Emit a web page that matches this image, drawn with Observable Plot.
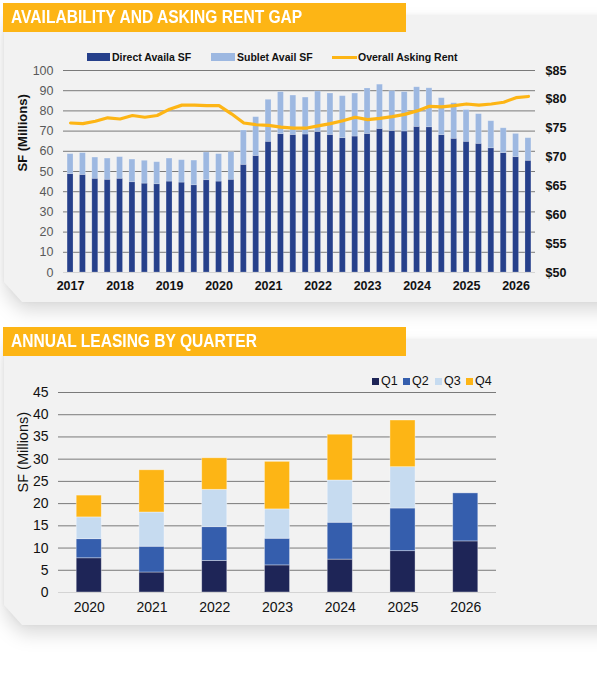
<!DOCTYPE html>
<html>
<head>
<meta charset="utf-8">
<script src="https://cdn.jsdelivr.net/npm/d3@7"></script>
<script src="https://cdn.jsdelivr.net/npm/@observablehq/plot@0.6"></script>
<style>
  body { margin: 0; width: 597px; height: 675px; background: #fff; position: relative; overflow: hidden;
         font-family: "Liberation Sans", Arial, Helvetica, sans-serif; }
  .shadow { position: absolute; left: 4px; width: 640px; filter: drop-shadow(0 9px 9px rgba(0,0,0,0.14)) drop-shadow(0 -1px 2px rgba(0,0,0,0.06)); }
  .panel { width: 100%; height: 100%; background: #f2f2f2;
           clip-path: polygon(0 0, 100% 0, 100% 100%, 18px 100%, 0 calc(100% - 20px)); }
  .banner { position: absolute; left: 3px; width: 403px; height: 29px; background: #FDB515; z-index: 2; overflow: hidden; }
  .banner span { position: absolute; left: 8px; top: 0; line-height: 29px; color: #fff; font-weight: bold; font-size: 18px;
                 white-space: nowrap; transform: scaleX(0.865); transform-origin: 0 50%; }
  .chart { position: absolute; left: 0; z-index: 1; }
  .legend { position: absolute; z-index: 1; white-space: nowrap; }
  .legend .sw { position: absolute; }
  .legend .lab { position: absolute; }
</style>
</head>
<body>
<div class="shadow" style="top:16px;height:286px"><div class="panel"></div></div>
<div class="shadow" style="top:340px;height:285px"><div class="panel"></div></div>
<div class="banner" style="top:3px"><span>AVAILABILITY AND ASKING RENT GAP</span></div>
<div class="banner" style="top:327px"><span>ANNUAL LEASING BY QUARTER</span></div>
<div id="legend1" class="legend" style="left:0;top:0"></div>
<div id="chart1" class="chart" style="top:60px"></div>
<div id="legend2" class="legend" style="left:0;top:0"></div>
<div id="chart2" class="chart" style="top:380px"></div>
<script>
// ---- Availability and asking rent, quarterly ----
const periods = [
  "2017 Q1","2017 Q2","2017 Q3","2017 Q4","2018 Q1","2018 Q2","2018 Q3","2018 Q4",
  "2019 Q1","2019 Q2","2019 Q3","2019 Q4","2020 Q1","2020 Q2","2020 Q3","2020 Q4",
  "2021 Q1","2021 Q2","2021 Q3","2021 Q4","2022 Q1","2022 Q2","2022 Q3","2022 Q4",
  "2023 Q1","2023 Q2","2023 Q3","2023 Q4","2024 Q1","2024 Q2","2024 Q3","2024 Q4",
  "2025 Q1","2025 Q2","2025 Q3","2025 Q4","2026 Q1","2026 Q2"
];
// SF in millions
const directAvailSF = [
  48.7, 48.3, 46.4, 45.9, 46.4, 44.7, 44.0, 43.7, 45.0, 44.5,
  43.2, 45.7, 45.0, 45.9, 53.3, 57.7, 64.7, 68.5, 68.1, 68.3,
  69.6, 68.1, 66.5, 67.3, 68.6, 71.1, 70.1, 69.8, 72.1, 71.9,
  68.0, 66.2, 64.7, 63.7, 61.5, 59.1, 57.1, 55.3
];
const subletAvailSF = [
   9.9, 10.8, 10.5, 10.5, 10.7, 11.2, 11.3, 10.9, 11.4, 11.1,
  12.2, 13.7, 13.6, 13.7, 17.0, 19.2, 20.8, 20.8, 19.5, 18.3,
  20.0, 20.5, 20.8, 21.3, 22.5, 21.9, 19.7, 19.5, 19.6, 19.3,
  18.3, 17.6, 15.7, 14.7, 13.4, 12.3, 11.5, 11.2
];
// $ per SF
const overallAskingRent = [
  75.9, 75.8, 76.2, 76.8, 76.6, 77.2, 76.9, 77.2, 78.3, 79.0,
  79.0, 78.9, 78.9, 77.5, 75.9, 75.6, 75.5, 75.2, 75.0, 75.0,
  75.4, 75.8, 76.3, 76.9, 76.5, 76.7, 77.0, 77.4, 78.0, 78.8,
  78.7, 78.9, 79.2, 79.0, 79.2, 79.5, 80.3, 80.5
];
const sfTicks = [0, 10, 20, 30, 40, 50, 60, 70, 80, 90, 100];
const rentTicks = [50, 55, 60, 65, 70, 75, 80, 85];
const availSeries = ["Direct Availa SF", "Sublet Avail SF"];
const rentSeries = "Overall Asking Rent";

// ---- Annual leasing by quarter ----
const years = ["2020", "2021", "2022", "2023", "2024", "2025", "2026"];
const quarterNames = ["Q1", "Q2", "Q3", "Q4"];
const leasingQ1 = [7.7, 4.5, 7.1, 6.1, 7.4, 9.3, 11.5];
const leasingQ2 = [4.3, 5.8, 7.6, 6.0, 8.3, 9.6, 10.8];
const leasingQ3 = [4.9, 7.7, 8.4, 6.6, 9.5, 9.3, null];
const leasingQ4 = [4.9, 9.5, 7.1, 10.7, 10.3, 10.5, null];
const leasingTicks = [0, 5, 10, 15, 20, 25, 30, 35, 40, 45];

const colors1 = { direct: "#26408B", sublet: "#9DB8E1", rent: "#FDB515" };
const quarterColors = ["#1E2557", "#355EAD", "#C6DBF0", "#FDB515"];

// rent is drawn against the SF axis: $50..$85 spans 0..100
const rentLo = 50, rentHi = 85;
const rentToSF = (r) => (r - rentLo) / (rentHi - rentLo) * 100;
const sfToRent = (v) => rentLo + v / 100 * (rentHi - rentLo);

const avail = [];
periods.forEach((p, i) => {
  avail.push({ period: p, series: availSeries[0], value: directAvailSF[i] });
  avail.push({ period: p, series: availSeries[1], value: subletAvailSF[i] });
});
const rent = periods.map((p, i) => ({ period: p, rent: overallAskingRent[i] }));

const chart1 = Plot.plot({
  width: 597, height: 240,
  marginLeft: 63, marginRight: 62, marginTop: 10, marginBottom: 28,
  style: { background: "transparent", fontFamily: "'Liberation Sans', Arial, sans-serif", overflow: "visible" },
  x: { domain: periods, type: "band", paddingInner: 0.52, paddingOuter: 0.33, round: false, axis: null },
  y: { domain: [0, 100], axis: null },
  color: { domain: availSeries, range: [colors1.direct, colors1.sublet] },
  marks: [
    Plot.ruleY(sfTicks.filter(d => d > 0), { stroke: "#7a7a7a", strokeWidth: 1 }),
    Plot.barY(avail, { x: "period", y: "value", fill: "series", order: availSeries,
                       stroke: "#ffffff", strokeOpacity: 0.25, strokeWidth: 0.8 }),
    Plot.ruleY([0], { stroke: "#d4d4d4", strokeWidth: 1.2 }),
    Plot.line(rent, { x: "period", y: d => rentToSF(d.rent), stroke: colors1.rent, strokeWidth: 3.2, curve: "linear" }),
    Plot.axisY(sfTicks, { anchor: "left", tickSize: 0, tickPadding: 10, label: null,
                          fontSize: 12.5, fill: "#595959" }),
    Plot.axisY(rentTicks.map(rentToSF), { anchor: "right", tickSize: 0, tickPadding: 10, label: null,
                          tickFormat: d => "$" + Math.round(sfToRent(d)), fontSize: 12.5, fontWeight: "bold", fill: "#111" }),
    Plot.axisX({ tickSize: 0, tickPadding: 9, label: null, fontSize: 12.5, fontWeight: "bold", fill: "#111",
                 tickFormat: d => d.endsWith("Q1") ? d.slice(0, 4) : "" }),
    Plot.text(["SF (Millions)"], { frameAnchor: "left", dx: -41, rotate: -90, fontSize: 13, fontWeight: "bold", fill: "#111" })
  ]
});
document.getElementById("chart1").append(chart1);

const leasing = [];
const byQuarter = [leasingQ1, leasingQ2, leasingQ3, leasingQ4];
years.forEach((y, i) => {
  quarterNames.forEach((q, k) => {
    if (byQuarter[k][i] != null) leasing.push({ year: y, quarter: q, value: byQuarter[k][i] });
  });
});

const chart2 = Plot.plot({
  width: 597, height: 240,
  marginLeft: 58, marginRight: 101, marginTop: 12, marginBottom: 28,
  style: { background: "transparent", fontFamily: "'Liberation Sans', Arial, sans-serif", overflow: "visible" },
  x: { domain: years, type: "band", paddingInner: 0.6, paddingOuter: 0.29, round: false, axis: null },
  y: { domain: [0, 45], axis: null },
  color: { domain: quarterNames, range: quarterColors },
  marks: [
    Plot.ruleY(leasingTicks.filter(d => d > 0), { stroke: "#7a7a7a", strokeWidth: 1 }),
    Plot.barY(leasing, { x: "year", y: "value", fill: "quarter", order: quarterNames,
                         stroke: "#ffffff", strokeOpacity: 0.45, strokeWidth: 0.8 }),
    Plot.ruleY([0], { stroke: "#d4d4d4", strokeWidth: 1.2 }),
    Plot.axisY(leasingTicks, { anchor: "left", tickSize: 0, tickPadding: 10, label: null, fontSize: 14, fill: "#111" }),
    Plot.axisX({ tickSize: 0, tickPadding: 10, label: null, fontSize: 14, fill: "#111" }),
    Plot.text(["SF (Millions)"], { frameAnchor: "left", dx: -35, rotate: -90, fontSize: 14.5, fill: "#111" })
  ]
});
document.getElementById("chart2").append(chart2);

// ---- legends ----
function addItem(host, sw, label, labelStyle) {
  const s = document.createElement("div");
  s.className = "sw";
  Object.assign(s.style, sw);
  host.append(s);
  const t = document.createElement("div");
  t.className = "lab";
  t.textContent = label;
  Object.assign(t.style, labelStyle);
  host.append(t);
}
const lg1 = document.getElementById("legend1");
const lg1Font = { fontSize: "10.5px", fontWeight: "bold", color: "#111", top: "50px", lineHeight: "14px" };
addItem(lg1, { left: "87px", top: "53px", width: "23px", height: "8px", background: colors1.direct },
        availSeries[0], { ...lg1Font, left: "112px" });
addItem(lg1, { left: "211px", top: "53px", width: "24px", height: "8px", background: colors1.sublet },
        availSeries[1], { ...lg1Font, left: "237px" });
addItem(lg1, { left: "332px", top: "55.5px", width: "25px", height: "3px", background: colors1.rent },
        rentSeries, { ...lg1Font, left: "358px" });

const lg2 = document.getElementById("legend2");
const lg2Font = { fontSize: "12.5px", color: "#111", top: "374px", lineHeight: "14px" };
const swLeft = [372, 403, 435, 466];
quarterNames.forEach((q, k) => {
  addItem(lg2, { left: swLeft[k] + "px", top: "378px", width: "7px", height: "7px", background: quarterColors[k] },
          q, { ...lg2Font, left: (swLeft[k] + 9) + "px" });
});
</script>
</body>
</html>
